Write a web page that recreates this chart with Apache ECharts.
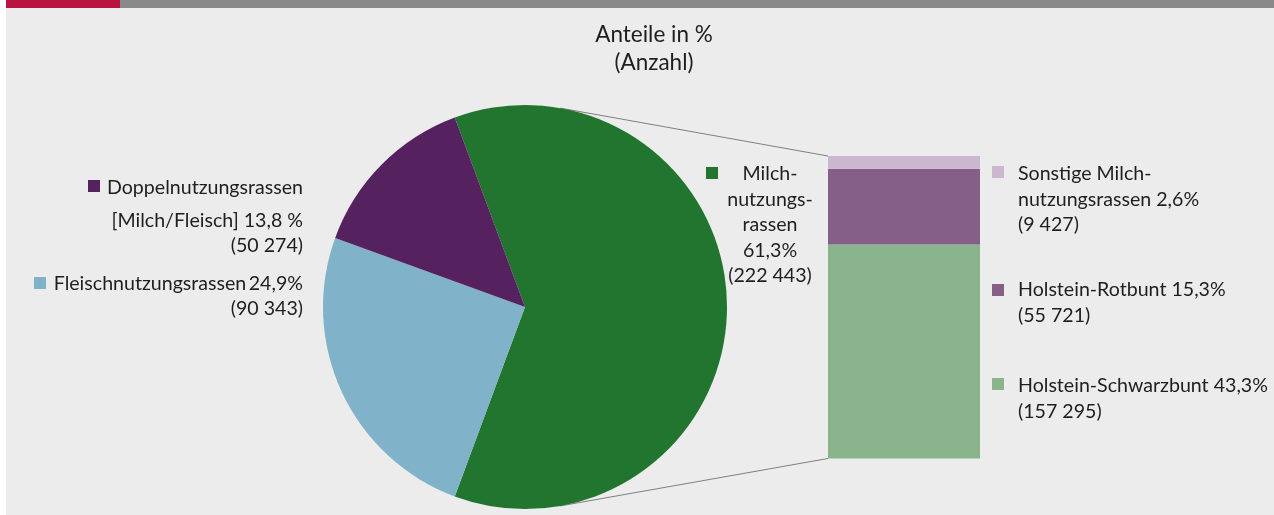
<!DOCTYPE html>
<html><head><meta charset="utf-8">
<script src="https://cdn.jsdelivr.net/npm/echarts@6/dist/echarts.min.js"></script>
<style>html,body{margin:0;padding:0;background:#fff;}#c{width:1274px;height:515px;}</style>
</head><body><div id="c"></div>
<script>
// ---- data ----
const titleLines = ['Anteile in %', '(Anzahl)'];
const mainNames = ['Milchnutzungsrassen', 'Fleischnutzungsrassen', 'Doppelnutzungsrassen [Milch/Fleisch]'];
const mainShares = [61.3, 24.9, 13.8];
const mainCounts = [222443, 90343, 50274];
const subNames = ['Holstein-Schwarzbunt', 'Holstein-Rotbunt', 'Sonstige Milchnutzungsrassen'];
const subShares = [43.3, 15.3, 2.6];
const subCounts = [157295, 55721, 9427];

// ---- styles ----
const mainColors = ['#21752f', '#80b2c9', '#55215e'];
const subColors = ['#8ab58c', '#865f89', '#cbb8d0'];
const FONT = 'Lato, "Noto Sans", sans-serif';
const FS = 19.6;
const TXT = '#1e1e1e';

const pct = (v, sp) => v.toFixed(1).replace('.', ',') + (sp ? ' %' : '%');
const cnt = v => '(' + String(v).replace(/\B(?=(\d{3})+(?!\d))/g, ' ') + ')';

const chart = echarts.init(document.getElementById('c'));
const pieCenter = [525, 307], pieR = 202;
const subSum = subShares.reduce((a, b) => a + b, 0);

const option = {
  animation: false,
  backgroundColor: '#fff',
  grid: { left: 828, top: 156, width: 152, height: 302.5 },
  xAxis: { type: 'category', data: ['Milch'], show: false },
  yAxis: { type: 'value', min: 0, max: subSum, show: false },
  series: [
    {
      type: 'pie', silent: true, center: pieCenter, radius: pieR,
      startAngle: mainShares[0] / mainShares.reduce((a, b) => a + b, 0) * 180,
      clockwise: true, label: { show: false }, labelLine: { show: false },
      itemStyle: { borderWidth: 0 },
      data: mainNames.map((n, i) => ({ name: n, value: mainShares[i], itemStyle: { color: mainColors[i] } })),
      z: 3
    },
    ...subNames.map((n, i) => ({
      type: 'bar', name: n, stack: 'milch', silent: true, barWidth: '100%',
      data: [subShares[i]], itemStyle: { color: subColors[i] }, z: 3
    }))
  ]
};
chart.setOption(option);

// connector lines: tangent from bar corners to pie circle
const topLeft = chart.convertToPixel({ gridIndex: 0 }, ['Milch', subSum]);
const botLeft = chart.convertToPixel({ gridIndex: 0 }, ['Milch', 0]);
const barHalf = 76;
function tangent(P, upper) {
  const vx = P[0] - pieCenter[0], vy = P[1] - pieCenter[1];
  const d = Math.hypot(vx, vy), th = Math.atan2(vy, vx), a = Math.acos(pieR / d);
  const t = upper ? th - a : th + a;
  return [pieCenter[0] + pieR * Math.cos(t), pieCenter[1] + pieR * Math.sin(t)];
}
const pTop = [topLeft[0] - barHalf, topLeft[1]], pBot = [botLeft[0] - barHalf, botLeft[1]];
const tTop = tangent(pTop, true), tBot = tangent(pBot, false);

function sq(x, y, c) { return { type: 'rect', shape: { x: x, y: y, width: 12, height: 12 }, style: { fill: c }, silent: true }; }
function tx(x, y, t, align, extra) {
  return Object.assign({ type: 'text', silent: true, style: Object.assign({
    x: x, y: y, text: t, fill: TXT, font: FS + 'px ' + FONT,
    textAlign: align || 'left', align: align || 'left', textVerticalAlign: 'middle', verticalAlign: 'middle', lineHeight: 25.5
  }, extra || {}) });
}

const graphics = [
  { type: 'rect', shape: { x: 6, y: 0, width: 1268, height: 515 }, style: { fill: '#ebeceb' }, z: -10, silent: true },
  { type: 'rect', shape: { x: 6, y: 0, width: 114, height: 8 }, style: { fill: '#b9143f' }, silent: true },
  { type: 'rect', shape: { x: 120, y: 0, width: 1154, height: 8 }, style: { fill: '#87898a' }, silent: true },
  tx(654, 35, titleLines[0], 'center', { font: '22.5px ' + FONT }),
  tx(654, 63, titleLines[1], 'center', { font: '22.5px ' + FONT }),
  { type: 'line', shape: { x1: tTop[0], y1: tTop[1], x2: pTop[0], y2: pTop[1] }, style: { stroke: '#7f7f7f', lineWidth: 1 }, silent: true, z: 1 },
  { type: 'line', shape: { x1: tBot[0], y1: tBot[1], x2: pBot[0], y2: pBot[1] }, style: { stroke: '#7f7f7f', lineWidth: 1 }, silent: true, z: 1 },
  // Doppelnutzung
  sq(88, 180, mainColors[2]),
  tx(303, 188, 'Doppelnutzungsrassen', 'right'),
  tx(303, 221, '[Milch/Fleisch] ' + pct(mainShares[2], true), 'right'),
  tx(303, 246, cnt(mainCounts[2]), 'right'),
  // Fleisch
  sq(34, 277, mainColors[1]),
  tx(303, 284, 'Fleischnutzungsrassen\u2009' + pct(mainShares[1]), 'right'),
  tx(303, 309, cnt(mainCounts[1]), 'right'),
  // Milch
  sq(706, 167, mainColors[0]),
  tx(770, 161, ['Milch-', 'nutzungs-', 'rassen', pct(mainShares[0]), cnt(mainCounts[0])].join('\n'), 'center', { verticalAlign: 'top', textVerticalAlign: 'top' }),
  // right labels
  sq(992, 166, subColors[2]),
  tx(1018, 161, ['Sonstige Milch-', 'nutzungsrassen ' + pct(subShares[2]), cnt(subCounts[2])].join('\n'), 'left', { verticalAlign: 'top', textVerticalAlign: 'top' }),
  sq(992, 284, subColors[1]),
  tx(1018, 277, [subNames[1] + ' ' + pct(subShares[1]), cnt(subCounts[1])].join('\n'), 'left', { verticalAlign: 'top', textVerticalAlign: 'top' }),
  sq(992, 378, subColors[0]),
  tx(1018, 373, [subNames[0] + ' ' + pct(subShares[0]), cnt(subCounts[0])].join('\n'), 'left', { verticalAlign: 'top', textVerticalAlign: 'top' })
];
chart.setOption({ graphic: { elements: graphics } });
</script></body></html>
